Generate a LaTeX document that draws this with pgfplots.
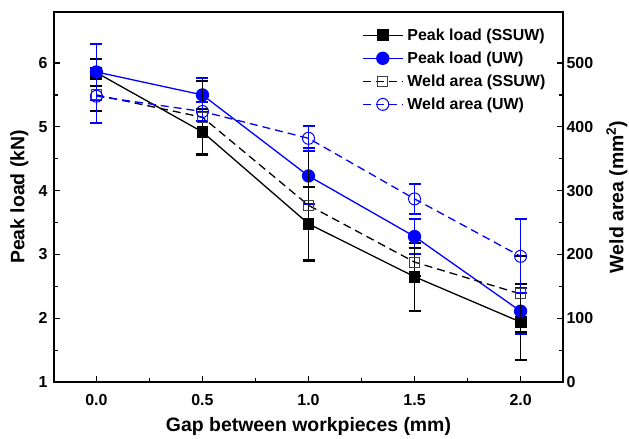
\documentclass[border=0pt]{standalone}
\usepackage{pgfplots}
\pgfplotsset{compat=1.18}
\usepackage{fontspec}
\setmainfont{Liberation Sans}
\definecolor{myblue}{RGB}{0,0,255}

\pgfplotstableread{
x y e
0.0 5.85 0.21
0.5 4.92 0.36
1.0 3.48 0.58
1.5 2.65 0.53
2.0 1.94 0.60
}\peakSSUW
\pgfplotstableread{
x y e
0.0 5.86 0.44
0.5 5.50 0.27
1.0 4.23 0.44
1.5 3.28 0.28
2.0 2.11 0.36
}\peakUW
\pgfplotstableread{
x y e
0.0 450 25
0.5 415 57
1.0 277 85
1.5 188 22
2.0 138 60
}\weldSSUW
\pgfplotstableread{
x y e
0.0 448 42
0.5 424 15
1.0 382 20
1.5 287 23
2.0 197 58
}\weldUW

\begin{document}
\begin{tikzpicture}
\pgfplotsset{
 common/.style={
  scale only axis, width=509bp, height=370bp,
  xmin=-0.2, xmax=2.2,
  tick align=inside,
  axis line style={line width=1.2bp},
  major tick length=6bp, minor tick length=4bp,
  every tick/.style={black, line width=1.2bp},
  /pgf/number format/assume math mode=true,
  ticklabel style={font=\bfseries\fontsize{16}{18}\selectfont},
  label style={font=\bfseries\fontsize{19.5}{22}\selectfont},
 },
 errstyle/.style={
  error bars/y dir=both, error bars/y explicit,
  error bars/error mark=-,
  error bars/error bar style={solid, line width=1.3bp},
  error bars/error mark options={solid, rotate=90, line width=2bp, mark size=6bp},
 },
 legend image code/.code={\draw[mark repeat=2, mark phase=2, #1] plot coordinates {(0bp,0bp) (20bp,0bp) (40bp,0bp)};},
}
\begin{axis}[common,
  ymin=1, ymax=6.8, ytick={1,2,3,4,5,6}, minor y tick num=1,
  xtick={0,0.5,1,1.5,2}, xticklabels={0.0,0.5,1.0,1.5,2.0}, minor x tick num=1,
  xtick pos=left, ytick pos=left,
  xticklabel style={yshift=-9bp},
  yticklabel style={xshift=-3bp},
  xlabel={Gap between workpieces (mm)},
  xlabel style={at={(axis description cs:0.5,-0.12)}, anchor=center},
  ylabel={Peak load (kN)},
  ylabel style={at={(axis description cs:-0.068,0.5)}, anchor=center},
]
\coordinate (sw) at (rel axis cs:0,0);
\addplot[black, line width=1.3bp, mark=square*, mark size=5.3bp, errstyle]
  table[x=x, y=y, y error=e] {\peakSSUW};
\addplot[myblue, line width=1.3bp, mark=*, mark size=6bp, errstyle]
  table[x=x, y=y, y error=e] {\peakUW};
\end{axis}
\begin{axis}[common,
  ymin=0, ymax=580, ytick={0,100,...,500}, minor y tick num=1,
  axis y line*=right, axis x line=none,
  ylabel={Weld area (mm\textsuperscript{2})},
  ylabel style={at={(axis description cs:1.106,0.5)}, anchor=center},
  legend cell align=left,
  legend style={at={(axis description cs:0.605,0.958)}, anchor=north west,
    draw=none, fill=none, font=\bfseries\fontsize{16}{18}\selectfont,
    row sep=8bp, inner sep=0pt, nodes={inner xsep=4bp, inner ysep=1bp}},
]
\addlegendimage{black, line width=1.3bp, mark=square*, mark size=5.3bp}
\addlegendentry{Peak load (SSUW)}
\addlegendimage{myblue, line width=1.3bp, mark=*, mark size=6bp}
\addlegendentry{Peak load (UW)}
\addplot[black, line width=1.3bp, dash pattern=on 8bp off 5bp, mark=square, mark size=5bp, mark options={solid, line width=1bp, draw=black!75}, errstyle]
  table[x=x, y=y, y error=e] {\weldSSUW};
\addlegendentry{Weld area (SSUW)}
\addplot[myblue, line width=1.3bp, dash pattern=on 8bp off 5bp, mark=o, mark size=6bp, mark options={solid, line width=1bp}, errstyle]
  table[x=x, y=y, y error=e] {\weldUW};
\addlegendentry{Weld area (UW)}
\end{axis}
\pgfresetboundingbox
\path[use as bounding box] (sw) ++(-54bp,-57bp) rectangle ++(629bp,439bp);
\end{tikzpicture}
\end{document}
